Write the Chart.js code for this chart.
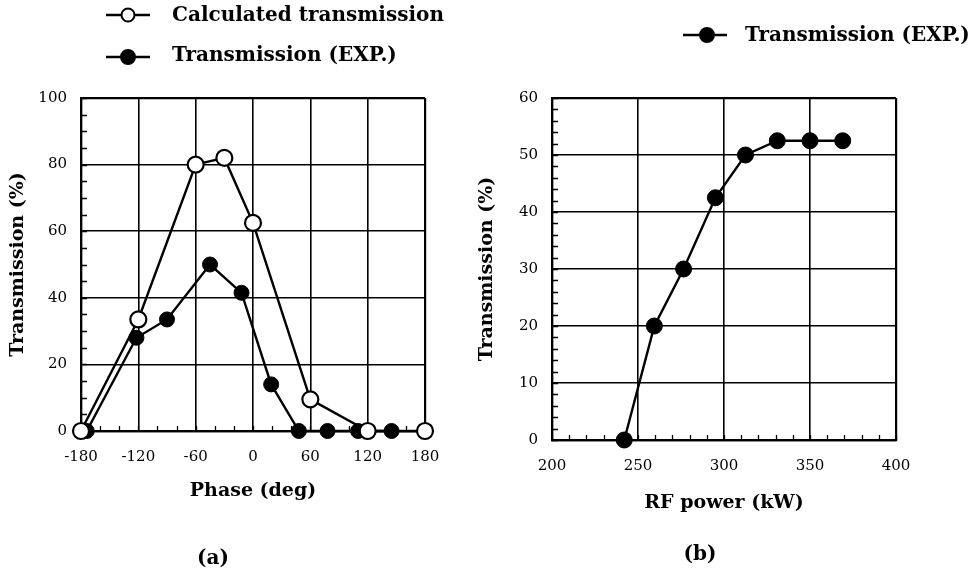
<!DOCTYPE html>
<html><head><meta charset="utf-8">
<script src="https://cdn.jsdelivr.net/npm/chart.js@4"></script>
<style>
html,body{margin:0;padding:0;background:#fff;}
#wrap{position:relative;width:980px;height:572px;overflow:hidden;background:#fff;}
canvas{position:absolute;top:0;}
#ca{left:0;width:490px;height:572px;}
#cb{left:460px;width:520px;height:572px;}
</style></head><body>
<div id="wrap"><canvas id="ca" width="490" height="572"></canvas><canvas id="cb" width="520" height="572"></canvas></div>
<script>
// ---- data (a) ----
const phaseCalc = [-180, -120, -60, -30, 0, 60, 120, 180];
const transCalc = [0, 33.5, 80, 82, 62.5, 9.5, 0, 0];
const phaseExp  = [-174, -122, -90, -45, -12, 19, 48, 78, 110, 145];
const transExp  = [0, 28, 33.5, 50, 41.5, 14, 0, 0, 0, 0];
const phaseTicks = [-180, -120, -60, 0, 60, 120, 180];
const transTicksA = [0, 20, 40, 60, 80, 100];
// ---- data (b) ----
const rfPower = [242, 259.5, 276.5, 295, 312.5, 331, 350, 369];
const transRf = [0, 20, 30, 42.5, 50, 52.5, 52.5, 52.5];
const powerTicks = [200, 250, 300, 350, 400];
const transTicksB = [0, 10, 20, 30, 40, 50, 60];
// ---- labels ----
const labelCalc = 'Calculated transmission';
const labelExp = 'Transmission (EXP.)';
const xTitleA = 'Phase (deg)';
const xTitleB = 'RF power (kW)';
const yTitle = 'Transmission (%)';
const captionA = '(a)';
const captionB = '(b)';

const FAM = "'DejaVu Serif', serif";
Chart.defaults.font.family = FAM;
Chart.defaults.color = '#000';

const toXY = (xs, ys) => xs.map((v, i) => ({x: v, y: ys[i]}));

const minorTicks = {
  id: 'minorTicks',
  beforeDatasetsDraw(chart, args, o) {
    const {ctx, chartArea: {left, bottom}, scales: {x, y}} = chart;
    ctx.save();
    ctx.strokeStyle = '#000';
    ctx.lineWidth = 1.3;
    ctx.beginPath();
    for (let v = x.min; v <= x.max + 1e-9; v += o.xStep) {
      const px = Math.round(x.getPixelForValue(v)) + 0.5;
      ctx.moveTo(px, bottom); ctx.lineTo(px, bottom - o.len);
    }
    for (let v = y.min; v <= y.max + 1e-9; v += o.yStep) {
      const py = Math.round(y.getPixelForValue(v)) + 0.5;
      ctx.moveTo(left, py); ctx.lineTo(left + o.len + 1, py);
    }
    ctx.stroke();
    ctx.restore();
  }
};

const customLegend = {
  id: 'customLegend',
  afterDraw(chart, args, o) {
    const ctx = chart.ctx;
    ctx.save();
    (o.items || []).forEach(it => {
      const ds = chart.data.datasets[it.ds];
      ctx.strokeStyle = '#000';
      ctx.lineWidth = 2.4;
      ctx.beginPath();
      ctx.moveTo(it.x1, it.y); ctx.lineTo(it.x2, it.y);
      ctx.stroke();
      ctx.beginPath();
      ctx.arc(it.cx, it.y, it.r, 0, Math.PI * 2);
      ctx.fillStyle = ds.pointBackgroundColor;
      ctx.fill();
      ctx.lineWidth = 2;
      ctx.stroke();
      ctx.fillStyle = '#000';
      ctx.font = 'bold 20px ' + FAM;
      ctx.textBaseline = 'middle';
      ctx.textAlign = 'left';
      ctx.fillText(ds.label, it.tx, it.ty);
    });
    if (o.caption) {
      ctx.font = 'bold 20px ' + FAM;
      ctx.textAlign = 'center';
      ctx.textBaseline = 'middle';
      ctx.fillText(o.caption.text, o.caption.x, o.caption.y);
    }
    ctx.restore();
  }
};

function edgeWidth(ticks) {
  return c => (c.tick && (c.tick.value === ticks[0] || c.tick.value === ticks[ticks.length - 1])) ? 2.2 : 1.6;
}

function axisX(ticks, title, h, titlePad) {
  return {
    type: 'linear', min: ticks[0], max: ticks[ticks.length - 1],
    afterBuildTicks: s => { s.ticks = ticks.map(v => ({value: v})); },
    afterFit: s => { s.height = h; },
    grid: {color: '#000', lineWidth: edgeWidth(ticks), drawTicks: false},
    border: {display: true, color: '#000', width: 2.2},
    ticks: {padding: 17, font: {size: 15}, color: '#000', maxRotation: 0, autoSkip: false},
    title: {display: true, text: title, font: {size: 19, weight: 'bold'}, padding: {top: 0, bottom: titlePad}, color: '#000'}
  };
}
function axisY(ticks, title, w, titlePad) {
  return {
    type: 'linear', min: ticks[0], max: ticks[ticks.length - 1],
    afterBuildTicks: s => { s.ticks = ticks.map(v => ({value: v})); },
    afterFit: s => { s.width = w; },
    grid: {color: '#000', lineWidth: edgeWidth(ticks), drawTicks: false},
    border: {display: true, color: '#000', width: 2.2},
    ticks: {padding: 14, font: {size: 15}, color: '#000', autoSkip: false},
    title: {display: true, text: title, font: {size: 19, weight: 'bold'}, padding: {top: titlePad, bottom: 0}, color: '#000'}
  };
}

new Chart(document.getElementById('ca'), {
  type: 'line',
  data: {
    datasets: [
      {label: labelCalc, data: toXY(phaseCalc, transCalc), borderColor: '#000', borderWidth: 2.4,
       pointRadius: 8, pointBorderWidth: 2.2, pointBackgroundColor: '#fff', pointBorderColor: '#000',
       tension: 0, clip: false},
      {label: labelExp, data: toXY(phaseExp, transExp), borderColor: '#000', borderWidth: 2.4,
       pointRadius: 7.5, pointBorderWidth: 1, pointBackgroundColor: '#000', pointBorderColor: '#000',
       tension: 0, clip: false}
    ]
  },
  options: {
    responsive: false, animation: false, events: [],
    layout: {padding: {left: 0, right: 65, top: 98, bottom: 0}},
    scales: {x: axisX(phaseTicks, xTitleA, 141, 70), y: axisY(transTicksA, yTitle, 81, 7)},
    plugins: {
      legend: {display: false}, tooltip: {enabled: false},
      minorTicks: {xStep: 20, yStep: 5, len: 5},
      customLegend: {
        items: [
          {ds: 0, x1: 106, x2: 150, cx: 128, y: 15, r: 6.5, tx: 172, ty: 16},
          {ds: 1, x1: 106, x2: 150, cx: 128, y: 57, r: 7, tx: 172, ty: 56}
        ],
        caption: {text: captionA, x: 213, y: 559}
      }
    }
  },
  plugins: [minorTicks, customLegend]
});

new Chart(document.getElementById('cb'), {
  type: 'line',
  data: {
    datasets: [
      {label: labelExp, data: toXY(rfPower, transRf), borderColor: '#000', borderWidth: 2.4,
       pointRadius: 8, pointBorderWidth: 1, pointBackgroundColor: '#000', pointBorderColor: '#000',
       tension: 0, clip: false}
    ]
  },
  options: {
    responsive: false, animation: false, events: [],
    layout: {padding: {left: 0, right: 84, top: 98, bottom: 0}},
    scales: {x: axisX(powerTicks, xTitleB, 132, 58), y: axisY(transTicksB, yTitle, 92, 16)},
    plugins: {
      legend: {display: false}, tooltip: {enabled: false},
      minorTicks: {xStep: 10, yStep: 2, len: 5},
      customLegend: {
        items: [
          {ds: 0, x1: 223, x2: 267, cx: 247, y: 35, r: 7, tx: 285, ty: 36}
        ],
        caption: {text: captionB, x: 240, y: 555}
      }
    }
  },
  plugins: [minorTicks, customLegend]
});
</script>
</body></html>
